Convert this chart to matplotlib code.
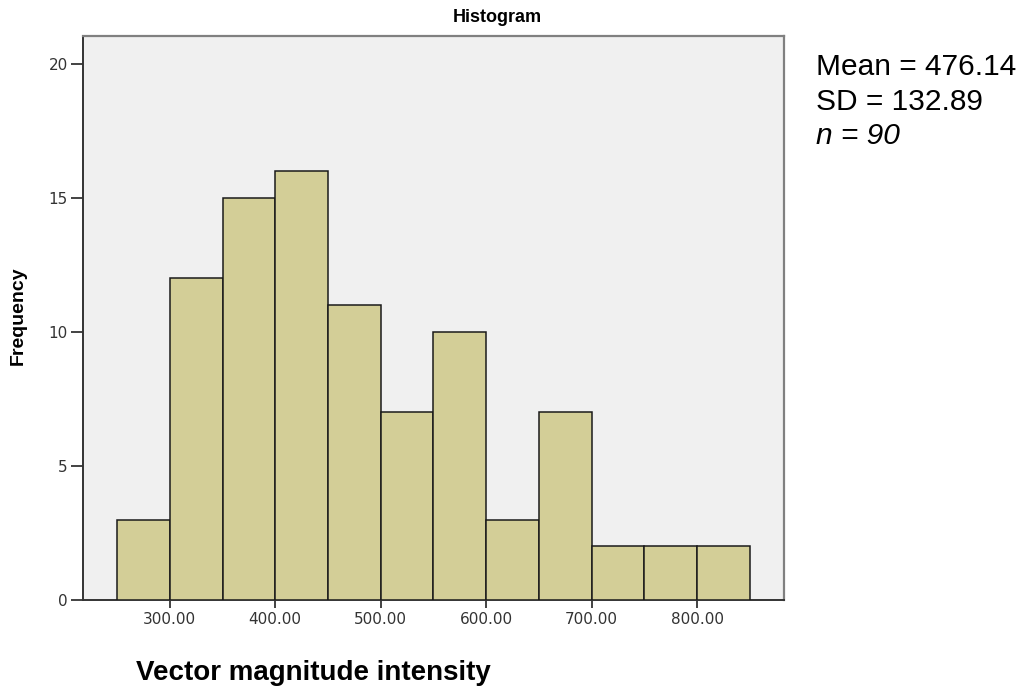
import numpy as np
import matplotlib
matplotlib.use("Agg")
import matplotlib.pyplot as plt

# Data: histogram bins (width 50) and frequencies
bin_edges = [250, 300, 350, 400, 450, 500, 550, 600, 650, 700, 750, 800, 850]
counts = [3, 12, 15, 16, 11, 7, 10, 3, 7, 2, 2, 2]
x_ticks = [300, 400, 500, 600, 700, 800]
x_tick_labels = ["300.00", "400.00", "500.00", "600.00", "700.00", "800.00"]
y_ticks = [0, 5, 10, 15, 20]
stats_lines = ["Mean = 476.14", "SD = 132.89", "n = 90"]

plt.rcParams['font.family'] = ['Liberation Sans', 'DejaVu Sans']

fig = plt.figure(figsize=(10.28, 6.95), dpi=100)
ax = fig.add_axes([83/1028, 1 - 600/695, (784-83)/1028, (600-36)/695])
ax.set_facecolor('#F0F0F0')

lefts = bin_edges[:-1]
widths = np.diff(bin_edges)
ax.bar(lefts, counts, width=widths, align='edge', color='#D3CE97',
       edgecolor='#1a1a1a', linewidth=1.1, zorder=3)

ax.set_xlim(217.7, 882.5)
ax.set_ylim(0, 21.05)
ax.set_xticks(x_ticks)
ax.set_xticklabels(x_tick_labels)
ax.set_yticks(y_ticks)
ax.tick_params(axis='x', length=6, width=1.2, color='#222222', labelsize=11,
               labelcolor='#333333', pad=3)
ax.tick_params(axis='y', length=9, width=1.2, color='#222222', labelsize=11,
               labelcolor='#333333', pad=2)
for lab in ax.get_xticklabels() + ax.get_yticklabels():
    lab.set_family('DejaVu Sans')

for side in ['left', 'bottom']:
    ax.spines[side].set_color('#333333')
    ax.spines[side].set_linewidth(1.4)
for side in ['top', 'right']:
    ax.spines[side].set_color('#808080')
    ax.spines[side].set_linewidth(1.6)

fig.text(497/1028, 1 - 18/695, "Histogram", ha='center', va='center',
         fontsize=13, fontweight='bold')
fig.text(18/1028, 1 - 316/695, "Frequency", ha='center', va='center',
         rotation=90, fontsize=14, fontweight='bold')
fig.text(136/1028, 1 - 680/695, "Vector magnitude intensity", ha='left',
         va='baseline', fontsize=20, fontweight='bold')

baselines = [75, 110, 144]
for i, line in enumerate(stats_lines):
    style = 'italic' if line.startswith('n') else 'normal'
    fig.text(816/1028, 1 - baselines[i]/695, line, ha='left', va='baseline',
             fontsize=21.5, fontstyle=style)

fig.savefig("out.png", dpi=100)
